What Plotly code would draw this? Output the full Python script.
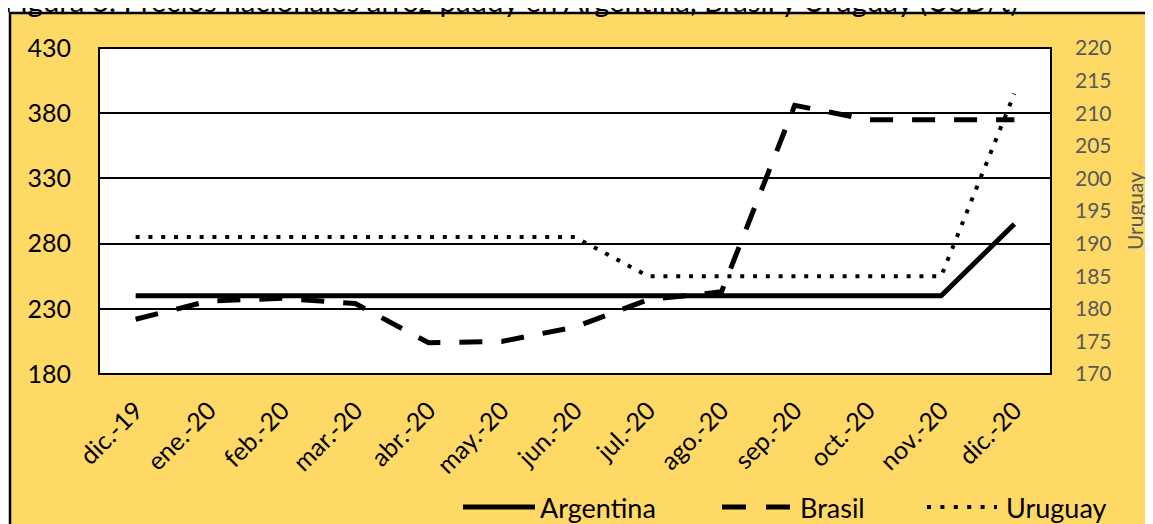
import plotly.graph_objects as go

months = ["dic.-19", "ene.-20", "feb.-20", "mar.-20", "abr.-20", "may.-20", "jun.-20",
          "jul.-20", "ago.-20", "sep.-20", "oct.-20", "nov.-20", "dic.-20"]
argentina = [240, 240, 240, 240, 240, 240, 240, 240, 240, 240, 240, 240, 295]
brasil = [222, 236, 238, 234, 204, 205, 216, 237, 243, 386, 375, 375, 375]
uruguay = [191, 191, 191, 191, 191, 191, 191, 185, 185, 185, 185, 185, 213]
left_ticks = [180, 230, 280, 330, 380, 430]
right_ticks = [170, 175, 180, 185, 190, 195, 200, 205, 210, 215, 220]

W, H = 1153, 524
OFF = 8  # page offset of the figure (body margin)
# plot area in page pixels
PL, PR, PT, PB = 99, 1051, 48, 374
L, R, T, B = PL - OFF, PR - OFF, PT - OFF, PB - OFF
FONT = "Lato"


def px(x):  # page x -> paper
    return (x - PL) / (PR - PL)


def py(y):  # page y -> paper
    return (PB - y) / (PB - PT)


fig = go.Figure()
xi = list(range(len(months)))
fig.add_trace(go.Scatter(x=xi, y=argentina, name="Argentina", mode="lines",
                         line=dict(color="black", width=5), showlegend=False))
fig.add_trace(go.Scatter(x=xi, y=brasil, name="Brasil", mode="lines",
                         line=dict(color="black", width=5, dash="23px,19px"), showlegend=False))
fig.add_trace(go.Scatter(x=xi, y=uruguay, name="Uruguay", mode="lines", yaxis="y2",
                         line=dict(color="black", width=4, dash="4px,8.8px"), showlegend=False))

shapes = [
    dict(type="rect", xref="paper", yref="paper", layer="below",
         x0=px(10), x1=px(1175), y0=py(545), y1=py(13),
         fillcolor="#FFD966", line=dict(color="black", width=2.5)),
    dict(type="rect", xref="paper", yref="paper", layer="below",
         x0=0, x1=1, y0=0, y1=1, fillcolor="white", line=dict(color="black", width=2)),
]
LY = 507
shapes.append(dict(type="line", xref="paper", yref="paper", x0=px(463), x1=px(535), y0=py(LY), y1=py(LY),
                   line=dict(color="black", width=5)))
shapes.append(dict(type="line", xref="paper", yref="paper", x0=px(722), x1=px(790), y0=py(LY), y1=py(LY),
                   line=dict(color="black", width=5, dash="24px,20px")))
shapes.append(dict(type="line", xref="paper", yref="paper", x0=px(927), x1=px(997), y0=py(LY), y1=py(LY),
                   line=dict(color="black", width=4, dash="4px,9.4px")))

annotations = [
    dict(text="Figura 3. Precios nacionales arroz paddy en Argentina, Brasil y Uruguay (USD/t)",
         xref="paper", yref="paper", x=px(3), y=py(19), xanchor="left", yanchor="bottom",
         showarrow=False, borderpad=0, font=dict(family=FONT, size=29.4, color="black")),
]
for name, x in [("Argentina", 539), ("Brasil", 799), ("Uruguay", 1005)]:
    annotations.append(dict(text=name, xref="paper", yref="paper", x=px(x), y=py(LY),
                            xanchor="left", yanchor="middle", showarrow=False, borderpad=0,
                            font=dict(family=FONT, size=27, color="black")))

fig.update_layout(
    width=W, height=H,
    margin=dict(l=L, r=W - R, t=T, b=H - B, pad=0),
    paper_bgcolor="white", plot_bgcolor="white",
    shapes=shapes, annotations=annotations,
    showlegend=False,
    xaxis=dict(range=[-0.5, 12.5], tickmode="array", tickvals=xi, ticktext=months,
               tickangle=-45, showgrid=False, zeroline=False, showline=False, ticks="",
               ticklabelstandoff=16, tickfont=dict(family=FONT, size=25, color="black")),
    yaxis=dict(range=[180, 430], tickvals=left_ticks, showgrid=True, gridcolor="black",
               gridwidth=1.5, zeroline=False, showline=False, ticks="", ticklabelstandoff=27,
               tickfont=dict(family=FONT, size=25, color="black")),
    yaxis2=dict(range=[170, 220], tickvals=right_ticks, overlaying="y", side="right",
                showgrid=False, zeroline=False, showline=False, ticks="", ticklabelstandoff=23,
                tickfont=dict(family=FONT, size=21, color="#595959"),
                title=dict(text="Uruguay", standoff=17, font=dict(family=FONT, size=21, color="#595959"))),
)

fig.write_html("out.html")
